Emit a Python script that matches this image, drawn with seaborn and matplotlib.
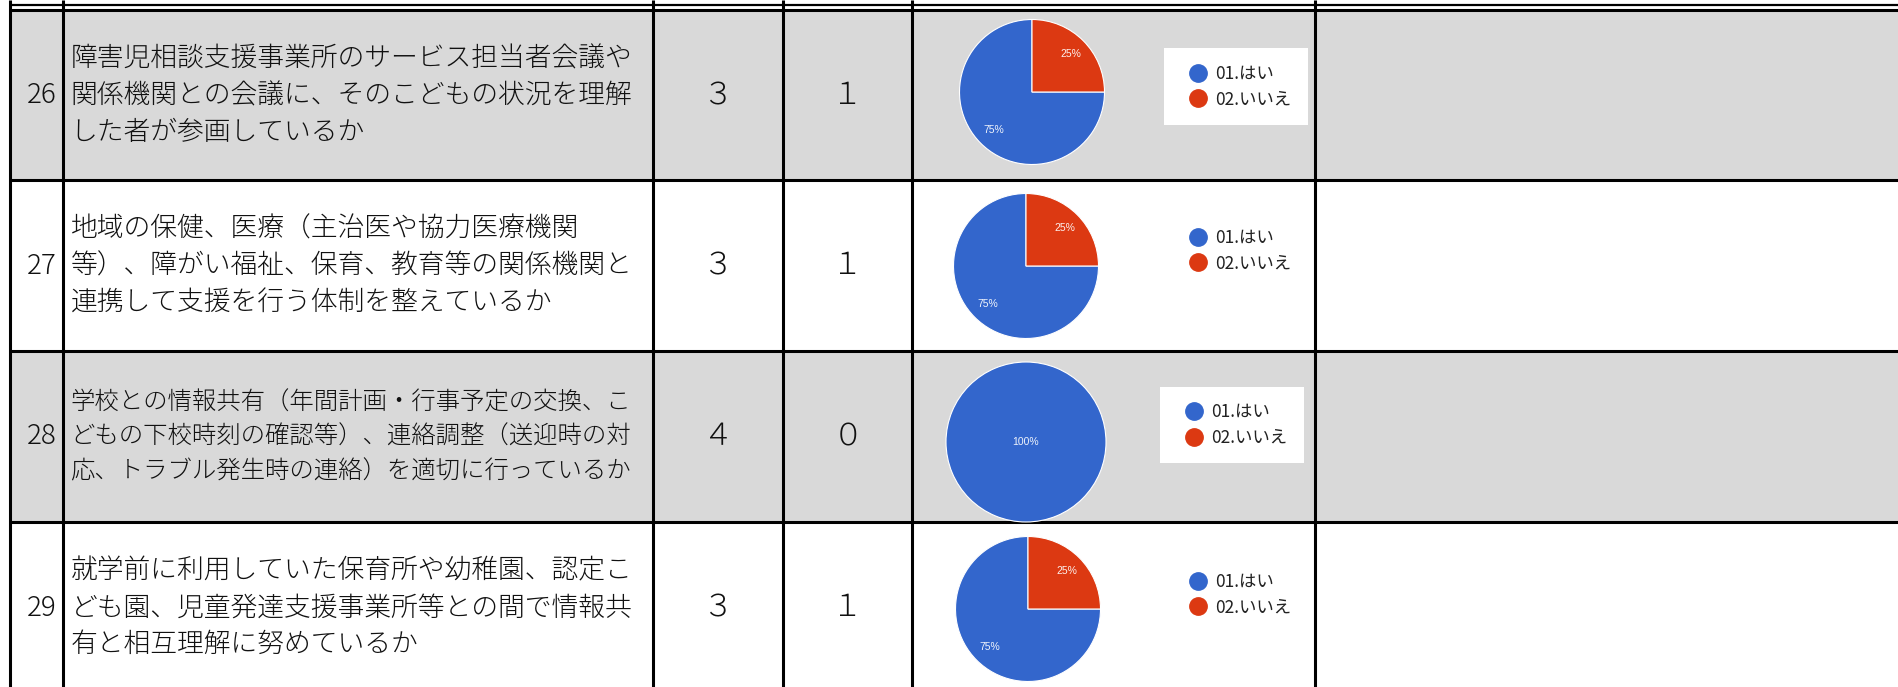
import numpy as np
import matplotlib
matplotlib.use("Agg")
import matplotlib.pyplot as plt
from matplotlib.lines import Line2D
from matplotlib.patches import Rectangle
import seaborn as sns

# ---------------- data ----------------
item_numbers = [26, 27, 28, 29]
questions = [
    "障害児相談支援事業所のサービス担当者会議や\n関係機関との会議に、そのこどもの状況を理解\nした者が参画しているか",
    "地域の保健、医療（主治医や協力医療機関\n等）、障がい福祉、保育、教育等の関係機関と\n連携して支援を行う体制を整えているか",
    "学校との情報共有（年間計画・行事予定の交換、こ\nどもの下校時刻の確認等）、連絡調整（送迎時の対\n応、トラブル発生時の連絡）を適切に行っているか",
    "就学前に利用していた保育所や幼稚園、認定こ\nども園、児童発達支援事業所等との間で情報共\n有と相互理解に努めているか",
]
yes_counts = [3, 3, 4, 3]
no_counts = [1, 1, 0, 1]
answer_labels = ["01.はい", "02.いいえ"]

# ---------------- style ----------------
sns.set_theme(style="white")
plt.rcParams['font.family'] = ['Noto Sans CJK JP', 'DejaVu Sans']
palette = sns.color_palette(["#3366CC", "#DC3912"])

W, H, DPI = 1898, 687, 100
fig = plt.figure(figsize=(W / DPI, H / DPI), dpi=DPI)
fig.patch.set_facecolor('white')
ax = fig.add_axes([0, 0, 1, 1])
ax.set_xlim(0, W)
ax.set_ylim(H, 0)
ax.axis('off')

# ---------------- layout ----------------
col_x = [10.5, 63.5, 653, 783, 912, 1315]
row_y = [10, 180, 351, 522, 693]
row_fill = ['#D9D9D9', 'white', '#D9D9D9', 'white']
q_fontsize = [19.3, 19.3, 17.6, 19.3]
pie_geo = [(1032, 92, 72.5), (1026, 266, 72.5), (1026, 442, 80), (1028, 609, 72.5)]
legend_center = [(1236, 86.5), (1236, 250.5), (1232, 425), (1236, 594.5)]
LW = 2.2
fullwidth = str.maketrans('0123456789', '０１２３４５６７８９')

for i in range(len(item_numbers)):
    y0, y1 = row_y[i], row_y[i + 1]
    yc = (y0 + y1) / 2
    ax.add_patch(Rectangle((col_x[0], y0), W - col_x[0], y1 - y0,
                           facecolor=row_fill[i], edgecolor='none', zorder=0))
    ax.text(col_x[1] - 7, yc, str(item_numbers[i]), ha='right', va='center',
            fontsize=20, color='#111111', fontweight='light')
    ax.text(col_x[1] + 7, yc, questions[i], ha='left', va='center',
            fontsize=q_fontsize[i], linespacing=1.4, color='#111111', fontweight='light')
    ax.text((col_x[2] + col_x[3]) / 2, yc, str(yes_counts[i]).translate(fullwidth),
            ha='center', va='center', fontsize=22, color='#111111', fontweight='light')
    ax.text((col_x[3] + col_x[4]) / 2, yc, str(no_counts[i]).translate(fullwidth),
            ha='center', va='center', fontsize=22, color='#111111', fontweight='light')

# grid lines
for y in row_y[1:-1]:
    ax.plot([col_x[0], W], [y, y], color='black', lw=LW, solid_capstyle='butt', zorder=3)
ax.plot([col_x[0], W], [4.5, 4.5], color='black', lw=1.6, solid_capstyle='butt', zorder=3)
ax.plot([col_x[0], W], [row_y[0], row_y[0]], color='black', lw=LW, solid_capstyle='butt', zorder=3)
for x in col_x:
    ax.plot([x, x], [0, H], color='black', lw=LW, solid_capstyle='butt', zorder=3)

# pies + legends
for i in range(len(item_numbers)):
    cx, cy, r = pie_geo[i]
    pad = 2
    pax = fig.add_axes([(cx - r - pad) / W, 1 - (cy + r + pad) / H,
                        2 * (r + pad) / W, 2 * (r + pad) / H])
    vals = np.array([yes_counts[i], no_counts[i]], dtype=float)
    mask = vals > 0
    single = mask.sum() == 1
    cols = [palette[j] for j in np.where(mask)[0]]
    pax.pie(vals[mask], colors=cols, startangle=90, counterclock=True,
            autopct=lambda p: f"{p:.0f}%", pctdistance=0 if single else 0.75,
            radius=1, wedgeprops=dict(edgecolor='white', linewidth=0.8),
            textprops=dict(color='white', fontsize=7.5, family='Liberation Sans', alpha=0.92))
    lim = (r + pad) / r
    pax.set_xlim(-lim, lim)
    pax.set_ylim(-lim, lim)
    pax.set_aspect('equal')
    pax.axis('off')

    handles = [Line2D([], [], marker='o', linestyle='none', markersize=12.5,
                      markerfacecolor=palette[j], markeredgecolor=palette[j])
               for j in range(2)]
    lx, ly = legend_center[i]
    leg = fig.legend(handles, answer_labels, loc='center',
                     bbox_to_anchor=(lx / W, 1 - ly / H), bbox_transform=fig.transFigure,
                     frameon=True, fancybox=False, facecolor='white', edgecolor='none',
                     framealpha=1, borderpad=0.95, handlelength=2, handletextpad=0,
                     labelspacing=0.45, labelcolor='#222222',
                     prop={'family': ['Noto Sans CJK JP', 'DejaVu Sans'], 'size': 12.5})

fig.savefig("out.png", dpi=DPI, facecolor='white')
